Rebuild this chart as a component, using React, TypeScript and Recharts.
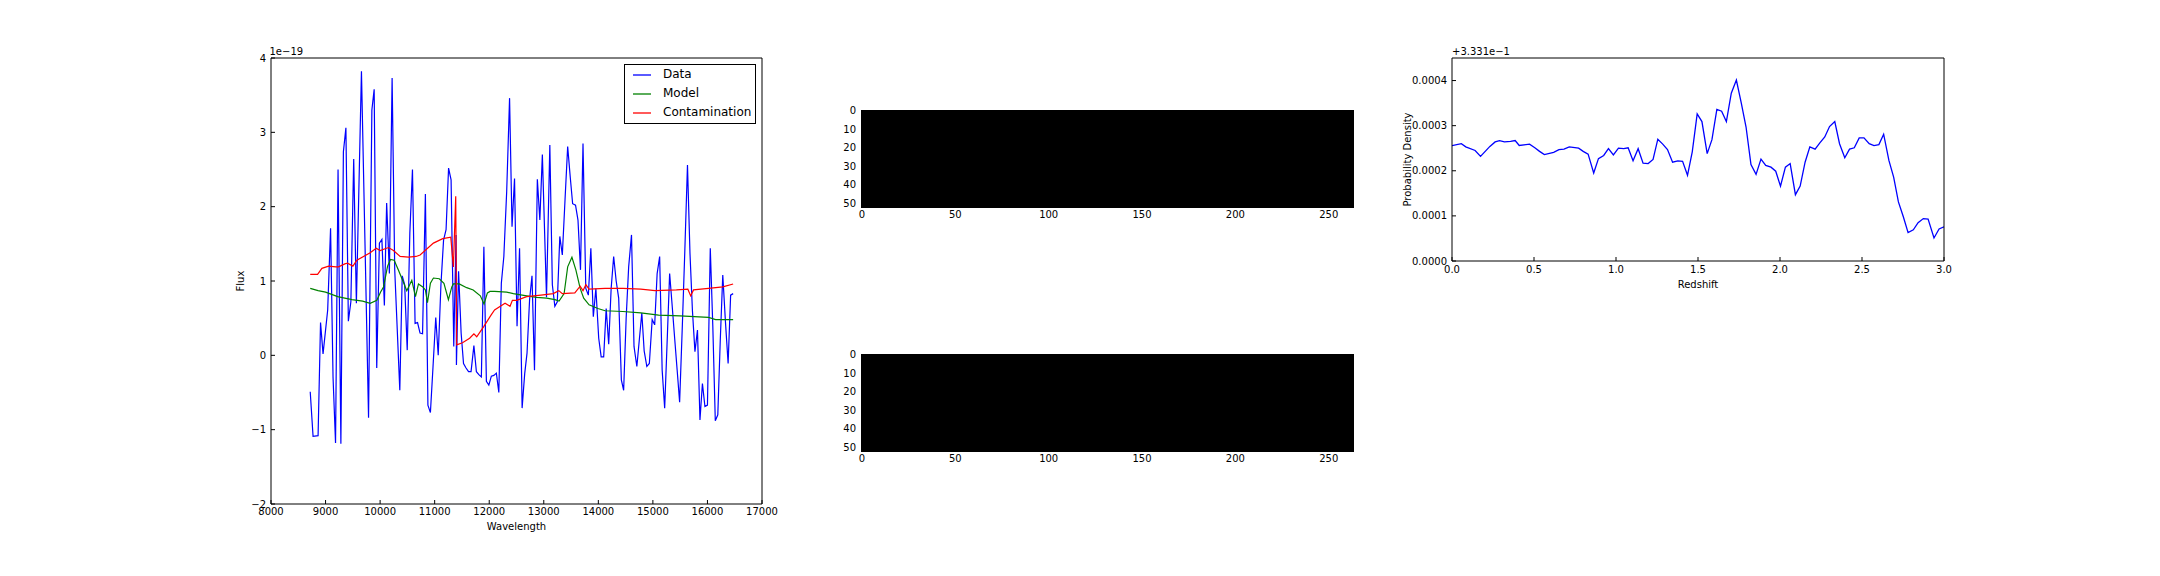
import React from 'react';
import { Area, ComposedChart, Label, Legend, Line, LineChart, XAxis, YAxis } from 'recharts';

const FONT = '"DejaVu Sans", "Bitstream Vera Sans", sans-serif';

// ---- spectrum panel (flux in units of 1e-19) ----
const waveTicks = [8000, 9000, 10000, 11000, 12000, 13000, 14000, 15000, 16000, 17000];
const fluxTicks = [-2, -1, 0, 1, 2, 3, 4];
const seriesNames = ['Data', 'Model', 'Contamination'];

const dataSpectrum: [number, number][] = [
  [8719, -0.49], [8771, -1.09], [8863, -1.08], [8908, 0.44], [8954, 0.02], [9039, 0.61], [9092, 1.71], [9137, -0.29], [9183, -1.18], [9229, 2.5],
  [9281, -1.19], [9327, 2.74], [9373, 3.06], [9418, 0.46], [9464, 0.72], [9516, 2.64], [9565, 0.7], [9658, 3.82], [9745, 0.72], [9788, -0.84],
  [9849, 3.3], [9891, 3.58], [9938, -0.17], [9987, 1.51], [10033, 1.56], [10078, 0.67], [10120, 2.05], [10170, 1.1], [10220, 3.73], [10268, 1.15],
  [10361, -0.47], [10405, 1.07], [10450, 0.95], [10497, 0.07], [10545, 1.65], [10593, 2.5], [10641, 0.43], [10686, 0.44], [10732, 0.3], [10778, 0.29],
  [10830, 2.17], [10876, -0.67], [10922, -0.77], [10970, -0.15], [11020, 0.51], [11065, 0], [11115, 0.95], [11163, 1.55], [11209, 1.69], [11255, 2.52],
  [11301, 2.36], [11350, 0.12], [11392, 1.62], [11399, -0.13], [11438, 1.13], [11485, 0.3], [11529, -0.11], [11575, -0.17], [11621, -0.22], [11667, -0.22],
  [11719, 0.13], [11765, -0.22], [11810, -0.26], [11856, -0.29], [11902, 1.46], [11948, -0.35], [11993, -0.4], [12039, -0.28], [12085, -0.27], [12131, -0.24],
  [12176, -0.5], [12222, 0.97], [12268, 1.33], [12320, 2.2], [12373, 3.46], [12418, 1.73], [12464, 2.38], [12510, 0.39], [12556, 1.44], [12603, -0.71],
  [12650, -0.25], [12693, 0.03], [12740, 0.75], [12784, 1.07], [12830, -0.2], [12882, 2.37], [12928, 1.82], [12974, 2.7], [13050, 0.78], [13111, 2.83],
  [13157, 0.95], [13203, 0.66], [13248, 0.72], [13294, 1.6], [13340, 1.35], [13390, 2.1], [13438, 2.81], [13485, 2.4], [13529, 2.04], [13582, 2.02],
  [13627, 1.82], [13673, 1.15], [13719, 2.85], [13770, 0.9], [13817, 0.81], [13863, 1.44], [13908, 0.52], [13955, 0.9], [14007, 0.23], [14052, -0.02],
  [14098, -0.02], [14144, 0.63], [14190, 0.15], [14235, 0.9], [14281, 1.33], [14327, 1.0], [14373, 0.77], [14422, -0.33], [14464, -0.47], [14510, 0.5],
  [14556, 1.19], [14608, 1.62], [14654, 0.12], [14706, -0.15], [14750, 0.2], [14797, 0.57], [14840, 0.06], [14889, -0.15], [14935, -0.11], [14987, 0.48],
  [15033, 0.41], [15078, 1.1], [15124, 1.33], [15170, -0.2], [15216, -0.71], [15262, 0.2], [15307, 1.1], [15350, 0.7], [15399, 0.23], [15445, -0.2],
  [15490, -0.63], [15540, 0.4], [15585, 1.4], [15634, 2.56], [15680, 1.37], [15725, 0.6], [15771, 0.05], [15817, 0.34], [15863, -0.87], [15908, -0.38],
  [15954, -0.69], [16000, -0.67], [16052, 1.44], [16098, 0.4], [16144, -0.88], [16190, -0.8], [16235, 0.2], [16281, 1.08], [16330, 0.45], [16379, -0.11],
  [16425, 0.81], [16471, 0.83],
];

const modelSpectrum: [number, number][] = [
  [8719, 0.9], [8863, 0.87], [9000, 0.85], [9222, 0.79], [9484, 0.75], [9680, 0.73], [9818, 0.7], [9940, 0.74], [10007, 0.85], [10062, 0.92],
  [10137, 1.2], [10190, 1.29], [10258, 1.28], [10333, 1.15], [10412, 1.01], [10489, 0.87], [10542, 0.95], [10581, 1.01], [10648, 0.79], [10703, 0.96],
  [10782, 0.92], [10830, 0.88], [10868, 0.71], [10922, 0.97], [10977, 1.04], [11085, 1.03], [11170, 0.97], [11252, 0.75], [11314, 0.92], [11343, 0.96],
  [11450, 0.96], [11587, 0.91], [11706, 0.88], [11837, 0.8], [11905, 0.69], [11967, 0.84], [12015, 0.86], [12098, 0.86], [12320, 0.85], [12442, 0.83],
  [12686, 0.8], [12869, 0.78], [13052, 0.77], [13204, 0.75], [13280, 0.73], [13373, 0.83], [13438, 1.19], [13516, 1.32], [13588, 1.15], [13667, 0.9],
  [13732, 0.77], [13830, 0.68], [13993, 0.63], [14124, 0.6], [14451, 0.59], [14778, 0.57], [15105, 0.54], [15497, 0.53], [15758, 0.52], [16020, 0.51],
  [16150, 0.48], [16471, 0.48],
];

const contamSpectrum: [number, number][] = [
  [8719, 1.09], [8854, 1.09], [8933, 1.17], [9056, 1.2], [9190, 1.19], [9238, 1.19], [9353, 1.23], [9403, 1.24], [9501, 1.2], [9574, 1.28],
  [9818, 1.38], [9928, 1.44], [10001, 1.41], [10153, 1.45], [10245, 1.41], [10367, 1.33], [10520, 1.32], [10660, 1.33], [10733, 1.35], [10977, 1.51],
  [11148, 1.57], [11295, 1.59], [11343, 1.19], [11386, 2.14], [11404, 0.14], [11510, 0.17], [11641, 0.23], [11719, 0.29], [11771, 0.25], [11902, 0.39],
  [12033, 0.54], [12098, 0.61], [12290, 0.7], [12381, 0.66], [12425, 0.74], [12503, 0.74], [12686, 0.79], [12948, 0.81], [13174, 0.83], [13275, 0.87],
  [13340, 0.83], [13569, 0.84], [13667, 0.93], [13719, 0.87], [13771, 0.95], [13830, 0.89], [14124, 0.9], [14451, 0.9], [14778, 0.89], [15039, 0.87],
  [15431, 0.88], [15641, 0.89], [15693, 0.8], [15745, 0.88], [16020, 0.9], [16281, 0.92], [16471, 0.96],
];

// ---- 2D spectrum images (rows x columns, all pixels black) ----
const imageRows = 53;
const imageCols = 264;
const colTicks = [0, 50, 100, 150, 200, 250];
const rowTicks = [0, 10, 20, 30, 40, 50];

// ---- p(z), offset +3.331e-1 ----
const redshift = [
  0, 0.057, 0.084, 0.141, 0.174, 0.231, 0.263, 0.29, 0.32, 0.357,
  0.385, 0.41, 0.473, 0.505, 0.534, 0.563, 0.62, 0.652, 0.683, 0.715,
  0.772, 0.8, 0.83, 0.864, 0.893, 0.925, 0.954, 0.984, 1.015, 1.047,
  1.074, 1.104, 1.135, 1.165, 1.196, 1.226, 1.255, 1.285, 1.314, 1.345,
  1.377, 1.406, 1.436, 1.465, 1.495, 1.524, 1.556, 1.585, 1.615, 1.644,
  1.673, 1.703, 1.734, 1.764, 1.793, 1.823, 1.854, 1.884, 1.913, 1.945,
  1.974, 2.003, 2.033, 2.062, 2.094, 2.123, 2.153, 2.182, 2.214, 2.243,
  2.273, 2.302, 2.334, 2.363, 2.395, 2.424, 2.453, 2.483, 2.512, 2.544,
  2.573, 2.603, 2.632, 2.664, 2.693, 2.722, 2.752, 2.781, 2.813, 2.842,
  2.874, 2.903, 2.939, 2.97, 3.0,
];
const probDensity = [
  2.556e-4, 2.6e-4, 2.53e-4, 2.45e-4, 2.32e-4, 2.54e-4, 2.64e-4, 2.67e-4, 2.64e-4, 2.65e-4,
  2.67e-4, 2.56e-4, 2.59e-4, 2.51e-4, 2.43e-4, 2.36e-4, 2.41e-4, 2.47e-4, 2.48e-4, 2.53e-4,
  2.5e-4, 2.43e-4, 2.37e-4, 1.95e-4, 2.27e-4, 2.34e-4, 2.49e-4, 2.35e-4, 2.5e-4, 2.49e-4,
  2.51e-4, 2.22e-4, 2.49e-4, 2.17e-4, 2.16e-4, 2.25e-4, 2.7e-4, 2.59e-4, 2.47e-4, 2.19e-4,
  2.22e-4, 2.21e-4, 1.9e-4, 2.42e-4, 3.26e-4, 3.09e-4, 2.38e-4, 2.69e-4, 3.36e-4, 3.32e-4,
  3.09e-4, 3.72e-4, 4.01e-4, 3.5e-4, 2.97e-4, 2.14e-4, 1.92e-4, 2.26e-4, 2.12e-4, 2.08e-4,
  1.99e-4, 1.66e-4, 2.08e-4, 2.16e-4, 1.47e-4, 1.66e-4, 2.19e-4, 2.53e-4, 2.48e-4, 2.62e-4,
  2.75e-4, 2.98e-4, 3.09e-4, 2.6e-4, 2.29e-4, 2.48e-4, 2.51e-4, 2.73e-4, 2.73e-4, 2.6e-4,
  2.56e-4, 2.58e-4, 2.81e-4, 2.23e-4, 1.86e-4, 1.31e-4, 0.98e-4, 0.63e-4, 0.69e-4, 0.85e-4,
  0.94e-4, 0.93e-4, 0.51e-4, 0.71e-4, 0.76e-4,
];
const zTicks = [0, 0.5, 1, 1.5, 2, 2.5, 3];
const pTicks = [0, 1e-4, 2e-4, 3e-4, 4e-4];

const toRows = (pairs: [number, number][]) => pairs.map(([wave, flux]) => ({ wave, flux }));
const pzRows = redshift.map((z, i) => ({ z, p: probDensity[i] }));
// pixel edges of the image: the filled band runs over every column, down to the last row edge
const imageSpan = [
  { col: -0.5, row: imageRows - 0.5 },
  { col: imageCols - 0.5, row: imageRows - 0.5 },
];

const tickStyle = { fill: '#000', fontSize: 10, fontFamily: FONT };
const minus = (v: number) => (v < 0 ? '\u2212' + Math.abs(v) : String(v));

const offsetText = (text: string, dx: number) => (props: any) => {
  const { x, y } = props.viewBox;
  return (
    <text x={x + dx} y={y - 2} fontSize={10} fontFamily={FONT} fill="#000">
      {text}
    </text>
  );
};

const legendBox = (props: any) => (
  <div
    style={{
      border: '1px solid #000',
      background: '#fff',
      width: 130,
      height: 58,
      fontFamily: FONT,
      fontSize: 12,
      color: '#000',
    }}
  >
    {(props.payload || []).map((entry: any) => (
      <div key={entry.value} style={{ display: 'flex', alignItems: 'center', height: 19, paddingLeft: 8 }}>
        <svg width={18} height={4} style={{ display: 'block' }}>
          <line x1={0} y1={2} x2={18} y2={2} stroke={entry.color} strokeWidth={1.3} />
        </svg>
        <span style={{ marginLeft: 12, lineHeight: '19px', whiteSpace: 'nowrap' }}>{entry.value}</span>
      </div>
    ))}
  </div>
);

function SpectrumPanel() {
  return (
    <div style={{ position: 'absolute', left: 0, top: 0 }}>
      <LineChart width={800} height={576} margin={{ top: 57, right: 37, bottom: 28, left: 209 }}>
        <XAxis
          type="number"
          dataKey="wave"
          domain={[8000, 17000]}
          ticks={waveTicks}
          interval={0}
          allowDataOverflow
          height={44}
          tickSize={-4}
          tickMargin={8}
          axisLine={{ stroke: '#000' }}
          tickLine={{ stroke: '#000' }}
          tick={tickStyle}
        >
          <Label value="Wavelength" position="center" fontSize={10} fontFamily={FONT} fill="#000" />
        </XAxis>
        <XAxis
          xAxisId="top"
          orientation="top"
          type="number"
          domain={[8000, 17000]}
          ticks={waveTicks}
          interval={0}
          allowDataOverflow
          height={1}
          tickSize={-4}
          tick={false}
          axisLine={{ stroke: '#000' }}
          tickLine={{ stroke: '#000' }}
        >
          <Label content={offsetText('1e\u221219', -1.5)} />
        </XAxis>
        <YAxis
          type="number"
          domain={[-2, 4]}
          ticks={fluxTicks}
          interval={0}
          allowDataOverflow
          width={62}
          tickSize={-4}
          tickMargin={9}
          tickFormatter={minus}
          axisLine={{ stroke: '#000' }}
          tickLine={{ stroke: '#000' }}
          tick={tickStyle}
        >
          <Label value="Flux" position="center" angle={-90} fontSize={10} fontFamily={FONT} fill="#000" />
        </YAxis>
        <YAxis
          yAxisId="right"
          orientation="right"
          type="number"
          domain={[-2, 4]}
          ticks={fluxTicks}
          interval={0}
          allowDataOverflow
          width={1}
          tickSize={-4}
          tick={false}
          axisLine={{ stroke: '#000' }}
          tickLine={{ stroke: '#000' }}
        />
        <Line data={toRows(dataSpectrum)} dataKey="flux" name={seriesNames[0]} stroke="#0000ff" strokeWidth={1.2} dot={false} isAnimationActive={false} />
        <Line data={toRows(modelSpectrum)} dataKey="flux" name={seriesNames[1]} stroke="#008000" strokeWidth={1.2} dot={false} isAnimationActive={false} />
        <Line data={toRows(contamSpectrum)} dataKey="flux" name={seriesNames[2]} stroke="#ff0000" strokeWidth={1.2} dot={false} isAnimationActive={false} />
        <Legend
          layout="vertical"
          align="center"
          verticalAlign="middle"
          itemSorter={(item: any) => seriesNames.indexOf(item.value)}
          content={legendBox}
          wrapperStyle={{ left: 624, top: 64, width: 132, height: 60 }}
        />
      </LineChart>
    </div>
  );
}

function ImagePanel({ top }: { top: number }) {
  return (
    <div style={{ position: 'absolute', left: 800, top }}>
      <ComposedChart width={600} height={170} data={imageSpan} margin={{ top: 30, right: 46, bottom: 22, left: 21 }}>
        <XAxis
          type="number"
          dataKey="col"
          domain={[-0.5, imageCols - 0.5]}
          ticks={colTicks}
          interval={0}
          allowDataOverflow
          height={20}
          tickSize={0}
          tickMargin={3}
          axisLine={false}
          tickLine={false}
          tick={tickStyle}
        />
        <YAxis
          type="number"
          reversed
          domain={[-0.5, imageRows - 0.5]}
          ticks={rowTicks}
          interval={0}
          allowDataOverflow
          width={40}
          tickSize={0}
          tickMargin={5}
          axisLine={false}
          tickLine={false}
          tick={tickStyle}
        />
        <Area
          type="linear"
          dataKey="row"
          baseValue={-0.5}
          fill="#000"
          fillOpacity={1}
          stroke="none"
          isAnimationActive={false}
        />
      </ComposedChart>
    </div>
  );
}

function RedshiftPanel() {
  return (
    <div style={{ position: 'absolute', left: 1300, top: 0 }}>
      <LineChart width={700} height={320} data={pzRows} margin={{ top: 57, right: 55, bottom: 13, left: 62 }}>
        <XAxis
          type="number"
          dataKey="z"
          domain={[0, 3]}
          ticks={zTicks}
          interval={0}
          allowDataOverflow
          height={46}
          tickSize={-4}
          tickMargin={9}
          tickFormatter={(v: number) => v.toFixed(1)}
          axisLine={{ stroke: '#000' }}
          tickLine={{ stroke: '#000' }}
          tick={tickStyle}
        >
          <Label value="Redshift" position="center" fontSize={10} fontFamily={FONT} fill="#000" />
        </XAxis>
        <XAxis
          xAxisId="top"
          orientation="top"
          type="number"
          domain={[0, 3]}
          ticks={zTicks}
          interval={0}
          allowDataOverflow
          height={1}
          tickSize={-4}
          tick={false}
          axisLine={{ stroke: '#000' }}
          tickLine={{ stroke: '#000' }}
        >
          <Label content={offsetText('+3.331e\u22121', 0)} />
        </XAxis>
        <YAxis
          type="number"
          domain={[0, 4.5e-4]}
          ticks={pTicks}
          interval={0}
          allowDataOverflow
          width={90}
          tickSize={-4}
          tickMargin={9}
          tickFormatter={(v: number) => v.toFixed(4)}
          axisLine={{ stroke: '#000' }}
          tickLine={{ stroke: '#000' }}
          tick={tickStyle}
        >
          <Label value="Probability Density" position="center" angle={-90} fontSize={10} fontFamily={FONT} fill="#000" />
        </YAxis>
        <YAxis
          yAxisId="right"
          orientation="right"
          type="number"
          domain={[0, 4.5e-4]}
          ticks={pTicks}
          interval={0}
          allowDataOverflow
          width={1}
          tickSize={-4}
          tick={false}
          axisLine={{ stroke: '#000' }}
          tickLine={{ stroke: '#000' }}
        />
        <Line dataKey="p" stroke="#0000ff" strokeWidth={1.3} dot={false} isAnimationActive={false} />
      </LineChart>
    </div>
  );
}

export default function App() {
  return (
    <div style={{ position: 'absolute', left: 0, top: 0, width: 2160, height: 576, background: '#fff', overflow: 'hidden' }}>
      <SpectrumPanel />
      <ImagePanel top={80} />
      <ImagePanel top={324} />
      <RedshiftPanel />
    </div>
  );
}
